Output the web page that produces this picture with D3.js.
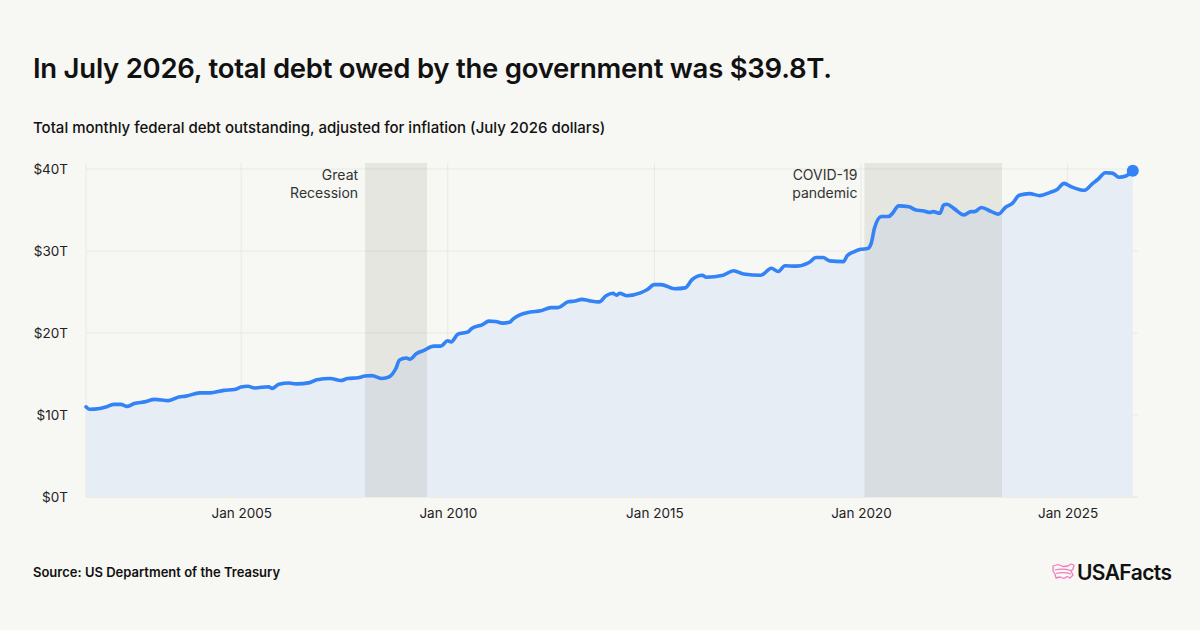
<!DOCTYPE html>
<html>
<head>
<meta charset="utf-8">
<script src="https://cdn.jsdelivr.net/npm/d3@7"></script>
<style>
  body { margin: 0; background: #f7f7f3; }
  svg { display: block; font-family: Inter, "Noto Sans", sans-serif; }
</style>
</head>
<body>
<svg id="chart" width="1200" height="630"></svg>
<script>
// monthly federal debt, trillions of July 2026 dollars
var months = [
  "2001-03","2001-04","2001-07","2001-09","2001-11","2002-01","2002-03","2002-05","2002-08","2002-11",
  "2003-03","2003-06","2003-08","2003-12","2004-03","2004-07","2004-10","2004-12","2005-02","2005-04",
  "2005-08","2005-09","2005-11","2006-02","2006-04","2006-08","2006-10","2007-02","2007-05","2007-07",
  "2007-10","2007-12","2008-02","2008-05","2008-07","2008-09","2008-10","2008-12","2009-01","2009-03",
  "2009-05","2009-08","2009-10","2009-12","2010-01","2010-03","2010-06","2010-07","2010-10","2010-12",
  "2011-02","2011-04","2011-06","2011-07","2011-09","2011-12","2012-03","2012-06","2012-08","2012-11",
  "2013-01","2013-03","2013-05","2013-08","2013-10","2013-12","2014-01","2014-02","2014-04","2014-08",
  "2014-10","2014-12","2015-02","2015-06","2015-09","2015-11","2016-02","2016-03","2016-08","2016-11",
  "2017-02","2017-07","2017-10","2017-12","2018-02","2018-05","2018-09","2018-11","2019-01","2019-03",
  "2019-07","2019-08","2019-10","2019-12","2020-02","2020-03","2020-04","2020-06","2020-08","2020-09",
  "2020-11","2021-02","2021-04","2021-06","2021-08","2021-09","2021-11","2021-12","2022-01","2022-03",
  "2022-06","2022-08","2022-09","2022-11","2023-02","2023-04","2023-06","2023-08","2023-10","2024-01",
  "2024-04","2024-07","2024-09","2024-11","2025-01","2025-05","2025-07","2025-09","2025-11","2026-01",
  "2026-03","2026-05","2026-07"
];
var debt = [
  11.0, 10.7, 10.8, 11.0, 11.3, 11.3, 11.05, 11.4, 11.6, 11.9,
  11.75, 12.2, 12.3, 12.7, 12.7, 13.0, 13.1, 13.4, 13.5, 13.3,
  13.45, 13.25, 13.75, 13.9, 13.8, 13.95, 14.3, 14.45, 14.2, 14.45,
  14.55, 14.75, 14.8, 14.45, 14.65, 15.7, 16.7, 16.95, 16.8, 17.5,
  17.85, 18.4, 18.4, 19.05, 18.9, 19.85, 20.15, 20.55, 21.0, 21.45,
  21.4, 21.2, 21.3, 21.7, 22.2, 22.55, 22.7, 23.1, 23.1, 23.8,
  23.9, 24.1, 23.95, 23.8, 24.55, 24.85, 24.6, 24.85, 24.55, 24.9,
  25.3, 25.9, 25.9, 25.4, 25.5, 26.5, 27.05, 26.8, 27.05, 27.6,
  27.2, 27.05, 27.9, 27.5, 28.2, 28.15, 28.6, 29.2, 29.2, 28.8,
  28.7, 29.4, 29.9, 30.2, 30.3, 30.9, 32.8, 34.2, 34.2, 34.5,
  35.5, 35.4, 35.0, 34.9, 34.7, 34.8, 34.6, 35.6, 35.7, 35.2,
  34.4, 34.8, 34.8, 35.3, 34.8, 34.5, 35.3, 35.8, 36.8, 37.0,
  36.75, 37.15, 37.5, 38.25, 37.85, 37.4, 38.1, 38.8, 39.55, 39.5,
  39.0, 39.15, 39.8
];

var yTicks = [0, 10, 20, 30, 40];
var xTicks = ["2005-01", "2010-01", "2015-01", "2020-01", "2025-01"];

var periodLabels = [["Great", "Recession"], ["COVID-19", "pandemic"]];
var periodStart = ["2008-01", "2020-02"];
var periodEnd = ["2009-07", "2023-06"];

var width = 1200, height = 630;
var plotLeft = 86, plotRight = 1138, plotTop = 163, plotBottom = 497;

var parseMonth = d3.timeParse("%Y-%m");
// points sit at the end of their month
var monthEnd = function(s) { return d3.timeDay.offset(d3.timeMonth.offset(parseMonth(s), 1), -1); };

var data = months.map(function(m, i) { return { date: monthEnd(m), value: debt[i] }; });

var svg = d3.select("#chart");

svg.append("rect").attr("width", width).attr("height", height).attr("fill", "#f7f7f3");

var x = d3.scaleTime()
  .domain([data[0].date, new Date(2026, 8, 15)])
  .range([plotLeft, plotRight]);

var y = d3.scaleLinear()
  .domain([0, 40])
  .range([plotBottom, 169]);

// title block
svg.append("text")
  .attr("x", 33).attr("y", 78)
  .attr("font-size", 27.5).attr("font-weight", 600).attr("fill", "#111")
  .attr("letter-spacing", -0.25)
  .text("In July 2026, total debt owed by the government was $39.8T.");

svg.append("text")
  .attr("x", 33).attr("y", 133)
  .attr("font-size", 15).attr("font-weight", 500).attr("fill", "#111")
  .text("Total monthly federal debt outstanding, adjusted for inflation (July 2026 dollars)");

// grid
var grid = svg.append("g");
grid.selectAll("line.h")
  .data(yTicks)
  .enter().append("line")
  .attr("class", "h")
  .attr("x1", plotLeft).attr("x2", plotRight)
  .attr("y1", function(d) { return y(d); })
  .attr("y2", function(d) { return y(d); })
  .attr("stroke", function(d) { return d === 0 ? "#e2e2df" : "#e8e8e5"; })
  .attr("stroke-width", 1);

grid.selectAll("line.v")
  .data([data[0].date].concat(xTicks.map(parseMonth)))
  .enter().append("line")
  .attr("class", "v")
  .attr("x1", function(d) { return x(d); })
  .attr("x2", function(d) { return x(d); })
  .attr("y1", plotTop).attr("y2", plotBottom)
  .attr("stroke", "#e8e8e5")
  .attr("stroke-width", 1);

// area under the line
var area = d3.area()
  .x(function(d) { return x(d.date); })
  .y0(plotBottom)
  .y1(function(d) { return y(d.value); })
  .curve(d3.curveMonotoneX);

svg.append("path")
  .datum(data)
  .attr("d", area)
  .attr("fill", "#e7edf5");

// shaded periods
svg.selectAll("rect.period")
  .data(periodStart)
  .enter().append("rect")
  .attr("class", "period")
  .attr("x", function(d) { return x(parseMonth(d)); })
  .attr("width", function(d, i) { return x(parseMonth(periodEnd[i])) - x(parseMonth(d)); })
  .attr("y", plotTop)
  .attr("height", plotBottom - plotTop)
  .attr("fill", "rgba(60,60,40,0.085)");

svg.selectAll("text.period")
  .data(periodLabels)
  .enter().append("text")
  .attr("class", "period")
  .attr("x", function(d, i) { return x(parseMonth(periodStart[i])) - 7; })
  .attr("y", 180)
  .attr("text-anchor", "end")
  .attr("font-size", 14).attr("fill", "#333")
  .selectAll("tspan")
  .data(function(d) { return d; })
  .enter().append("tspan")
  .attr("x", function() { return this.parentNode.getAttribute("x"); })
  .attr("dy", function(d, i) { return i === 0 ? 0 : 18; })
  .text(function(d) { return d; });

// line
var line = d3.line()
  .x(function(d) { return x(d.date); })
  .y(function(d) { return y(d.value); })
  .curve(d3.curveMonotoneX);

svg.append("path")
  .datum(data)
  .attr("d", line)
  .attr("fill", "none")
  .attr("stroke", "#3382f6")
  .attr("stroke-width", 3.6)
  .attr("stroke-linejoin", "round")
  .attr("stroke-linecap", "round");

var last = data[data.length - 1];
svg.append("circle")
  .attr("cx", x(last.date)).attr("cy", y(last.value))
  .attr("r", 6)
  .attr("fill", "#3382f6");

// axes
var yAxis = svg.append("g")
  .attr("transform", "translate(" + 68 + ",0)")
  .call(d3.axisLeft(y).tickValues(yTicks).tickSize(0).tickPadding(0)
    .tickFormat(function(d) { return "$" + d + "T"; }));
yAxis.select(".domain").remove();
yAxis.selectAll("text")
  .attr("font-family", "Inter, 'Noto Sans', sans-serif")
  .attr("font-size", 13.5).attr("fill", "#222");

var xAxis = svg.append("g")
  .attr("transform", "translate(0," + 508 + ")")
  .call(d3.axisBottom(x).tickValues(xTicks.map(parseMonth)).tickSize(0).tickPadding(0)
    .tickFormat(d3.timeFormat("Jan %Y")));
xAxis.select(".domain").remove();
xAxis.selectAll("text")
  .attr("font-family", "Inter, 'Noto Sans', sans-serif")
  .attr("font-size", 13.5).attr("fill", "#222");

// footer
svg.append("text")
  .attr("x", 33).attr("y", 577)
  .attr("font-size", 13).attr("font-weight", 600).attr("fill", "#111")
  .text("Source: US Department of the Treasury");

var logo = svg.append("g").attr("transform", "translate(1052,563)");
logo.append("path")
  .attr("d", "M1,3 L6,1.5 L11,3.5 L16,3 L19,1 L22,2 L21,6 L19,8 L21,12 L18,15 L15,13.5 L12,15.5 L8,14 L4,15 L3,11 L1,8 Z")
  .attr("fill", "none").attr("stroke", "#f07cc3").attr("stroke-width", 1.3)
  .attr("stroke-linejoin", "round");
logo.append("path")
  .attr("d", "M3,7 Q10,5 19,7.5 M4,10.5 Q11,8.5 19,11")
  .attr("fill", "none").attr("stroke", "#f07cc3").attr("stroke-width", 1.1);
svg.append("text")
  .attr("x", 1077).attr("y", 580)
  .attr("font-size", 21).attr("font-weight", 600).attr("fill", "#111")
  .attr("letter-spacing", -0.6)
  .text("USAFacts");
</script>
</body>
</html>
